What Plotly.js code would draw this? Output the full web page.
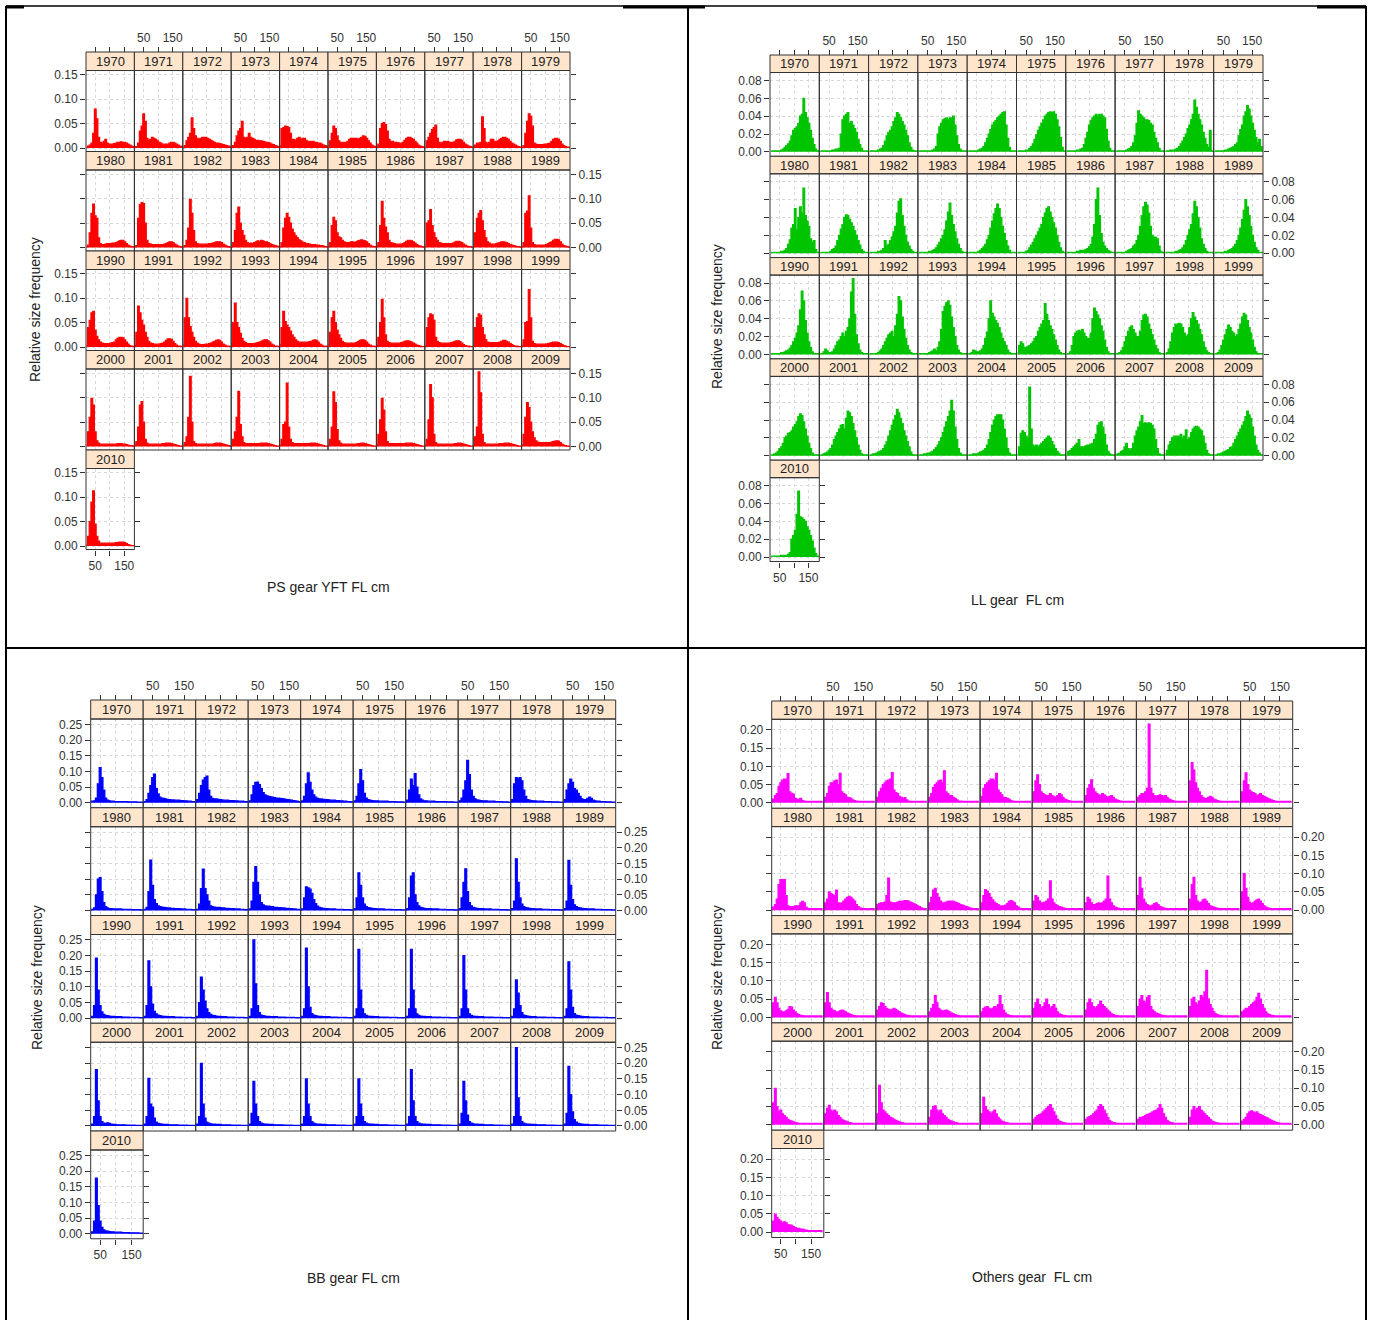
<!DOCTYPE html>
<html>
<head>
<meta charset="utf-8">
<script src="https://cdn.plot.ly/plotly-3.0.1.min.js"></script>
<style>html,body{margin:0;padding:0;background:#fff}</style>
</head>
<body>
<div id="chart" style="width:1373px;height:1320px"></div>
<script>
// Fork length bin mid-points (cm), shared by every panel
const BIN_MID_CM = [20,26,32,38,44,50,56,62,68,74,80,86,92,98,104,110,116,122,128,134,140,146,152,158,164,170,176,182,188];

const YEARS = [1970,1971,1972,1973,1974,1975,1976,1977,1978,1979,
               1980,1981,1982,1983,1984,1985,1986,1987,1988,1989,
               1990,1991,1992,1993,1994,1995,1996,1997,1998,1999,
               2000,2001,2002,2003,2004,2005,2006,2007,2008,2009,2010];

// Relative size frequency per bin, in thousandths (one row per year)
const PS_PERMILLE = [
[2,4,6,10,30,80,60,22,12,10,14,18,10,8,8,8,9,10,12,12,13,12,12,10,8,6,4,3,2],
[2,3,10,35,45,70,55,20,16,18,22,20,18,15,12,10,8,8,8,8,10,12,12,10,8,6,4,3,2],
[2,5,15,22,30,62,40,25,20,18,20,22,22,22,20,18,16,14,12,10,10,9,8,7,6,5,4,3,2],
[2,5,12,25,35,40,55,22,20,22,30,22,20,18,16,16,15,15,14,13,12,12,10,8,7,5,4,3,2],
[5,40,42,45,44,42,30,18,18,16,20,22,18,20,20,16,14,14,14,14,12,12,10,10,8,6,5,3,2],
[5,15,30,45,40,25,15,12,12,12,12,14,18,20,20,20,20,18,20,22,25,24,20,15,10,6,4,3,2],
[3,8,40,50,52,48,35,18,14,14,12,12,11,10,10,12,16,20,22,22,20,18,14,10,6,4,3,2,1],
[2,15,22,30,38,42,47,20,12,10,12,14,13,14,12,12,11,14,17,18,18,16,12,8,6,4,3,2,1],
[3,6,10,10,12,64,40,12,10,12,18,18,14,14,15,18,20,22,22,20,18,14,10,8,6,4,3,2,1],
[2,5,30,55,70,65,45,10,8,7,7,7,7,8,8,9,10,14,18,20,20,18,14,8,5,3,2,2,1],
[2,5,30,70,89,65,60,20,8,6,6,7,8,8,8,9,9,10,12,14,15,15,12,8,5,3,2,2,1],
[2,4,60,88,92,90,50,15,8,7,6,6,6,6,6,6,6,7,8,10,12,12,10,7,5,3,2,1,1],
[2,4,15,40,99,70,35,12,8,7,7,7,7,7,7,8,8,9,10,12,12,12,10,7,5,3,2,1,1],
[2,10,35,70,83,50,35,25,15,10,8,9,8,10,12,14,12,15,14,12,12,10,8,6,5,4,3,2,1],
[2,10,40,60,70,62,50,38,30,24,20,16,14,11,10,8,8,7,6,6,6,5,5,4,4,3,2,2,1],
[2,10,45,62,55,30,22,20,15,12,10,10,10,12,12,10,12,14,15,16,15,14,12,8,5,3,2,2,1],
[3,10,45,95,60,42,30,15,10,9,8,7,7,7,7,8,10,13,15,15,14,12,9,6,4,3,2,1,1],
[3,50,55,78,45,30,20,15,10,9,8,8,8,8,8,8,9,11,13,13,12,10,7,5,3,2,2,1,1],
[3,30,60,70,76,55,35,20,12,9,7,7,7,8,9,10,12,12,11,10,8,6,5,4,3,2,2,1,1],
[2,10,70,75,106,40,10,6,5,5,5,5,5,5,6,8,10,12,15,17,17,16,12,7,4,3,2,1,1],
[3,40,55,70,73,35,22,15,10,8,7,7,7,7,8,9,10,15,18,20,20,19,15,10,6,3,2,1,1],
[3,30,84,70,55,45,30,20,12,8,7,6,6,6,6,7,8,10,14,17,17,16,12,7,4,2,2,1,1],
[5,60,100,60,42,30,20,12,8,6,5,5,5,6,6,7,8,10,12,14,15,14,10,6,4,2,2,1,1],
[5,50,90,50,40,28,18,12,9,7,7,7,7,7,8,9,10,12,14,15,15,13,10,6,4,2,2,1,1],
[5,40,73,52,45,40,33,25,20,15,12,10,10,10,10,10,10,11,12,14,15,14,10,6,4,2,2,1,1],
[5,30,60,73,50,35,25,18,12,9,8,8,8,8,8,8,9,11,14,15,15,14,10,6,4,2,2,1,1],
[3,20,50,98,60,25,12,9,8,8,8,8,8,8,9,10,12,13,13,12,10,8,6,4,3,2,1,1,1],
[3,40,60,68,66,55,20,12,9,8,8,8,8,8,8,9,10,12,13,13,11,8,5,3,2,2,1,1,1],
[3,40,60,68,65,40,25,15,10,9,9,9,9,9,9,10,12,14,14,12,10,7,5,3,2,2,1,1,1],
[3,15,50,52,118,60,12,7,6,6,6,6,6,6,6,7,8,9,10,10,10,9,7,5,3,2,1,1,1],
[4,30,60,99,85,30,12,7,5,5,5,5,5,5,5,5,5,5,6,6,6,5,5,4,3,2,2,1,1],
[3,10,40,85,92,50,15,7,5,5,5,5,5,5,5,5,6,6,7,7,7,6,5,4,3,2,1,1,1],
[3,8,20,60,144,50,10,6,5,5,5,5,5,5,5,5,5,5,6,7,7,7,6,5,4,3,2,1,1],
[3,15,30,60,113,45,20,8,6,6,6,6,6,6,6,6,6,7,7,7,7,6,5,4,3,2,1,1,1],
[3,15,45,50,130,40,15,8,6,6,6,6,6,6,6,6,6,6,7,7,7,6,5,4,3,2,1,1,1],
[3,15,40,112,90,35,12,7,5,5,5,5,5,5,5,5,5,6,6,7,7,6,5,4,3,2,1,1,1],
[3,25,55,99,75,30,10,6,6,6,6,6,6,6,6,6,6,7,7,7,7,6,5,4,3,2,1,1,1],
[3,15,55,127,100,25,8,5,5,5,5,5,5,5,5,5,5,6,6,7,7,6,5,4,3,2,1,1,1],
[3,20,40,153,110,25,8,5,5,5,5,5,5,5,5,6,6,6,7,7,7,6,5,4,3,2,1,1,1],
[3,25,60,90,80,50,30,18,12,9,8,8,8,8,8,8,8,9,10,11,12,11,8,5,3,2,1,1,1],
[3,20,50,90,113,45,20,10,6,6,6,6,6,6,6,6,6,7,7,8,8,8,7,5,3,2,1,1,1]
];

const LL_PERMILLE = [
[1,1,1,1,1,1,2,3,5,7,9,12,18,24,26,28,32,40,42,60,44,38,32,24,15,8,3,1,1],
[1,1,1,1,1,1,1,2,2,3,3,4,20,36,40,42,44,32,34,30,26,22,14,8,4,1,1,1,1],
[1,1,1,1,1,2,3,4,7,12,18,22,24,28,34,38,44,42,38,34,30,24,18,10,5,2,1,1,1],
[1,1,1,1,1,1,1,1,2,3,6,20,28,32,36,37,38,36,38,38,40,30,18,8,3,1,1,1,1],
[1,1,1,1,1,1,2,3,4,6,10,15,20,25,30,33,35,38,40,42,44,45,30,15,5,1,1,1,1],
[1,1,1,1,1,2,2,4,6,9,14,19,24,28,32,36,40,42,44,45,44,45,42,36,28,16,5,1,1],
[1,1,1,1,1,1,2,2,3,4,8,15,22,30,35,38,40,42,40,42,42,40,38,25,12,4,1,1,1],
[1,1,1,1,1,1,2,3,4,6,10,18,32,46,42,40,38,36,36,35,32,30,22,15,10,4,1,1,1],
[1,1,1,2,2,2,3,4,6,9,12,16,20,26,30,36,42,58,50,42,36,30,22,15,8,5,24,1,1],
[1,1,1,1,1,1,2,2,3,4,5,6,8,10,18,25,30,40,45,52,48,40,32,24,16,10,14,6,1],
[1,1,1,1,1,1,2,2,3,5,10,15,28,32,50,26,40,52,45,73,42,36,30,16,12,14,4,1,1],
[1,1,1,1,1,1,2,4,5,8,14,20,27,32,40,43,42,38,34,30,25,20,14,9,4,2,1,1,1],
[1,1,1,1,1,2,2,3,5,14,8,10,14,18,24,30,45,58,61,42,30,20,12,8,4,2,1,1,1],
[1,1,1,1,1,1,2,2,3,4,6,9,12,16,20,26,36,46,56,42,32,24,16,10,5,2,1,1,1],
[1,1,1,1,1,1,2,3,5,7,10,15,20,28,36,44,50,55,50,40,30,22,14,8,3,1,1,1,1],
[1,1,1,1,1,2,3,6,9,12,16,20,24,28,32,40,45,50,52,46,40,34,28,20,12,6,2,1,1],
[1,1,1,1,1,1,2,2,3,3,3,4,5,7,10,18,32,60,73,42,22,12,8,5,3,2,1,1,1],
[1,1,1,1,1,1,2,3,4,5,8,10,14,20,30,42,52,57,54,45,30,20,18,18,16,8,2,1,1],
[1,1,1,1,1,1,2,2,3,4,6,9,14,20,26,32,44,58,52,40,28,16,10,5,2,1,1,1,1],
[1,1,1,1,1,1,2,2,3,4,5,7,10,14,20,28,38,48,60,52,42,30,20,12,6,3,1,1,1],
[1,1,1,1,1,1,2,2,3,4,5,7,10,14,18,24,32,50,71,60,38,24,14,8,3,1,1,1,1],
[1,1,3,6,4,2,2,3,6,10,14,16,20,24,20,26,30,40,70,85,45,22,12,5,2,1,1,1,1],
[1,1,1,1,1,2,4,6,10,14,18,22,24,26,20,32,45,65,60,42,28,18,10,5,2,1,1,1,1],
[1,1,1,1,1,1,2,3,4,6,4,8,14,28,48,54,58,60,55,42,30,20,10,5,2,1,1,1,1],
[1,1,2,5,4,3,3,4,6,10,18,25,40,60,46,42,38,35,30,24,18,14,10,5,2,1,1,1,1],
[2,10,14,12,8,8,9,10,12,14,18,20,26,30,34,38,57,45,38,32,28,22,16,10,5,2,1,1,1],
[1,1,3,10,20,24,26,27,26,28,24,20,18,18,24,40,52,48,44,40,32,26,16,8,3,1,1,1,1],
[1,1,2,4,8,14,20,26,30,32,28,24,20,20,26,38,44,45,42,34,28,22,16,10,6,2,1,1,1],
[1,2,6,14,24,30,34,34,35,34,30,24,20,22,30,40,47,42,38,34,28,22,14,8,4,2,1,1,1],
[1,1,2,5,10,16,22,28,33,30,26,24,20,22,28,34,42,46,44,38,30,24,16,8,3,1,1,1,1],
[1,1,2,3,5,8,10,14,20,22,25,26,28,32,35,38,44,47,45,38,30,22,14,8,3,1,1,1,1],
[1,1,2,3,4,6,8,12,18,22,26,30,34,35,30,42,50,48,44,36,28,20,12,6,2,1,1,1,1],
[1,1,2,2,3,4,5,6,8,12,16,22,28,34,40,45,52,48,42,36,28,22,16,10,4,1,1,1,1],
[1,1,1,2,2,3,3,4,5,7,9,12,16,20,26,32,38,44,50,62,50,32,18,8,3,1,1,1,1],
[1,1,1,2,2,2,3,4,5,6,8,12,18,26,34,40,44,46,46,46,40,30,20,8,3,1,1,1,1],
[2,10,25,28,26,22,20,77,30,12,10,12,10,12,14,16,18,20,22,20,16,12,8,5,3,1,1,1,1],
[3,5,6,8,10,12,14,18,10,10,10,11,12,12,13,14,18,24,34,37,38,32,24,12,5,2,1,1,1],
[1,2,3,5,6,10,14,8,6,8,14,22,28,32,38,45,36,37,36,37,36,34,30,18,8,2,1,1,1],
[2,6,12,16,20,22,22,22,22,24,20,22,29,18,20,26,30,32,33,32,30,28,22,14,6,2,1,1,1],
[1,1,2,2,3,4,5,6,7,9,10,14,18,22,26,30,34,38,44,50,46,42,32,22,12,6,3,1,1],
[1,1,1,1,1,1,2,2,2,2,3,5,20,24,30,48,74,45,44,42,40,34,30,24,18,10,4,1,1]
];

const BB_PERMILLE = [
[5,5,6,15,60,112,80,40,15,8,6,5,5,4,4,4,4,4,4,4,3,3,3,3,3,2,2,2,2],
[3,4,10,30,55,80,91,45,28,18,15,14,12,10,10,9,9,8,8,8,7,7,6,6,5,5,4,4,3],
[3,10,30,55,72,80,85,40,20,14,12,12,11,10,9,8,8,8,7,7,7,6,6,5,5,5,4,4,3],
[3,6,25,55,65,66,58,45,32,25,22,20,19,18,16,15,15,14,13,12,11,10,9,8,7,6,5,4,3],
[3,6,20,60,95,65,40,25,18,14,12,12,11,10,10,9,8,8,8,7,7,6,6,5,5,4,4,3,3],
[4,6,20,60,106,70,30,15,10,8,7,6,6,6,5,5,5,5,5,4,4,4,4,3,3,3,3,2,2],
[3,8,40,75,55,93,50,25,12,8,6,6,5,5,5,5,4,4,4,4,4,4,3,3,3,3,2,2,2],
[3,6,15,40,70,135,90,40,20,12,9,8,7,6,6,6,5,5,5,5,4,4,4,4,3,3,3,2,2],
[3,10,60,80,78,80,70,40,20,10,8,7,6,6,5,5,5,5,4,4,4,4,3,3,3,3,2,2,2],
[3,10,40,60,75,65,45,40,30,20,12,10,10,14,18,14,8,6,5,5,4,4,4,3,3,3,2,2,2],
[3,4,8,50,100,105,60,25,12,8,6,6,5,5,5,5,5,4,4,4,4,4,3,3,3,3,3,2,2],
[3,4,10,60,161,80,35,22,15,12,11,10,9,8,8,7,7,6,6,6,5,5,5,4,4,4,3,3,3],
[3,4,20,70,132,70,50,30,15,12,11,10,10,9,8,8,7,7,6,6,6,5,5,5,4,4,3,3,3],
[3,5,30,90,140,90,50,25,18,15,14,14,12,12,10,10,9,9,8,8,7,7,6,6,5,5,4,4,3],
[3,5,40,75,72,68,55,35,22,14,10,8,7,6,6,5,5,5,5,4,4,4,4,3,3,3,3,2,2],
[3,6,40,120,80,40,20,12,9,8,7,6,6,5,5,5,5,4,4,4,4,3,3,3,3,3,2,2,2],
[3,6,40,110,120,50,25,15,10,8,7,6,6,6,5,5,5,5,4,4,4,4,3,3,3,3,2,2,2],
[3,6,40,90,133,60,25,15,10,8,7,6,6,6,5,5,5,5,4,4,4,4,3,3,3,3,2,2,2],
[3,6,30,165,90,40,20,12,9,8,7,6,6,5,5,5,5,4,4,4,4,3,3,3,3,3,2,2,2],
[3,6,30,160,80,35,18,12,9,8,7,6,6,5,5,5,5,4,4,4,4,3,3,3,3,3,2,2,2],
[3,6,40,192,90,40,20,12,9,8,7,6,6,5,5,5,5,4,4,4,4,3,3,3,3,3,2,2,2],
[3,6,40,183,100,45,22,14,10,8,7,6,6,5,5,5,5,4,4,4,4,3,3,3,3,3,2,2,2],
[3,6,50,131,90,55,30,18,12,9,8,7,6,6,5,5,5,4,4,4,4,3,3,3,3,3,2,2,2],
[3,6,30,250,110,40,18,10,8,7,6,6,5,5,5,5,4,4,4,4,3,3,3,3,3,2,2,2,2],
[3,6,30,224,100,35,15,10,8,7,6,6,5,5,5,5,4,4,4,4,3,3,3,3,3,2,2,2,2],
[3,6,30,220,90,30,14,9,7,6,6,5,5,5,4,4,4,4,4,3,3,3,3,3,2,2,2,2,2],
[3,6,30,220,90,30,14,9,7,6,6,5,5,5,4,4,4,4,4,3,3,3,3,3,2,2,2,2,2],
[3,6,30,200,90,30,14,9,7,6,6,5,5,5,4,4,4,4,4,3,3,3,3,3,2,2,2,2,2],
[3,6,30,122,80,40,18,10,8,7,6,5,5,5,4,4,4,4,4,3,3,3,3,3,2,2,2,2,2],
[3,6,30,180,90,35,15,10,8,7,6,5,5,5,4,4,4,4,4,3,3,3,3,3,2,2,2,2,2],
[3,6,30,180,80,30,14,9,8,10,8,6,5,5,4,4,4,4,4,3,3,3,3,3,2,2,2,2,2],
[3,6,30,152,70,60,25,12,8,7,6,5,5,5,4,4,4,4,4,3,3,3,3,3,2,2,2,2,2],
[3,6,30,200,70,25,12,9,7,6,6,5,5,5,4,4,4,4,4,3,3,3,3,3,2,2,2,2,2],
[3,6,40,142,70,30,14,9,7,6,6,5,5,5,4,4,4,4,4,3,3,3,3,3,2,2,2,2,2],
[3,6,30,150,70,30,14,9,7,6,6,5,5,5,4,4,4,4,4,3,3,3,3,3,2,2,2,2,2],
[3,6,30,150,70,30,14,9,7,6,6,5,5,5,4,4,4,4,4,3,3,3,3,3,2,2,2,2,2],
[3,6,30,180,80,30,14,9,7,6,6,5,5,5,4,4,4,4,4,3,3,3,3,3,2,2,2,2,2],
[3,6,40,142,80,35,14,9,7,6,6,5,5,5,4,4,4,4,4,3,3,3,3,3,2,2,2,2,2],
[3,6,30,250,90,30,14,9,7,6,6,5,5,5,4,4,4,4,4,3,3,3,3,3,2,2,2,2,2],
[3,6,40,190,100,45,20,12,8,7,6,5,5,5,4,4,4,4,4,3,3,3,3,3,2,2,2,2,2],
[3,6,40,177,90,40,20,12,9,8,7,6,6,5,5,5,5,4,4,4,4,3,3,3,3,3,2,2,2]
];

const OTHERS_PERMILLE = [
[5,10,20,25,45,55,62,65,65,80,30,26,24,12,10,10,12,6,5,4,4,4,4,4,4,4,4,4,4],
[5,15,25,45,55,55,60,62,50,81,30,25,22,15,14,12,8,6,5,4,4,4,4,4,4,4,4,4,4],
[5,15,30,40,50,55,60,62,65,83,35,28,25,18,15,12,14,8,5,4,4,4,4,4,4,4,4,4,4],
[5,15,25,42,50,55,60,62,55,88,30,25,20,20,15,12,8,5,5,4,4,4,4,4,4,4,4,4,4],
[5,18,40,50,55,60,65,65,60,81,35,28,22,15,14,12,10,6,5,4,4,4,4,4,4,4,4,4,4],
[5,30,60,77,50,30,25,22,20,20,25,20,18,15,20,25,22,15,10,8,6,5,4,4,4,4,4,4,4],
[5,20,40,50,63,40,30,25,22,20,25,22,18,15,18,20,15,10,8,6,5,4,4,4,4,4,4,4,4],
[5,15,20,25,25,30,40,216,40,25,20,18,20,22,20,18,20,15,10,8,6,5,4,4,4,4,4,4,4],
[5,60,110,90,55,40,30,20,15,12,12,15,18,15,10,8,6,5,4,4,4,4,4,4,4,4,4,4,4],
[5,30,60,82,50,35,30,28,25,20,22,25,20,18,15,12,10,8,6,5,4,4,4,4,4,4,4,4,4],
[5,8,15,30,70,84,84,84,40,12,10,10,10,12,12,12,20,24,20,8,5,4,4,4,4,4,4,4,4],
[5,20,30,50,45,42,40,55,20,18,20,25,30,35,38,35,30,25,15,10,6,5,4,4,4,4,4,4,4],
[5,15,18,20,20,22,40,88,22,20,20,20,22,24,24,25,26,26,25,22,20,18,15,12,10,6,5,4,4],
[5,20,35,55,60,45,35,25,20,20,22,24,25,25,24,22,20,18,15,14,12,10,8,6,5,4,4,4,4],
[5,20,40,56,52,45,35,28,22,18,15,12,12,12,14,18,24,26,24,20,12,8,5,4,4,4,4,4,4],
[5,25,40,35,25,20,20,22,25,30,80,30,20,15,12,10,8,6,5,4,4,4,4,4,4,4,4,4,4],
[5,20,35,30,20,15,15,18,20,18,20,25,30,93,30,20,12,8,6,5,4,4,4,4,4,4,4,4,4],
[5,40,90,60,30,20,15,12,12,14,18,20,15,10,8,6,5,4,4,4,4,4,4,4,4,4,4,4,4],
[5,30,70,90,40,25,20,22,28,30,25,18,12,10,8,6,5,4,4,4,4,4,4,4,4,4,4,4,4],
[5,50,100,60,35,22,18,20,25,28,30,25,18,12,8,6,5,4,4,4,4,4,4,4,4,4,4,4,4],
[5,40,55,40,25,18,15,15,18,22,30,28,20,15,10,8,6,5,4,4,4,4,4,4,4,4,4,4,4],
[5,40,68,40,25,20,18,15,15,18,20,18,15,12,10,8,6,5,4,4,4,4,4,4,4,4,4,4,4],
[5,20,30,40,38,30,25,22,20,22,25,22,18,15,12,10,8,6,5,4,4,4,4,4,4,4,4,4,4],
[5,15,25,35,60,40,25,20,18,18,20,18,15,12,10,8,6,5,4,4,4,4,4,4,4,4,4,4,4],
[5,15,25,28,30,25,22,25,30,28,35,60,35,20,12,8,6,5,4,4,4,4,4,4,4,4,4,4,4],
[5,25,40,50,35,25,30,40,50,35,25,30,35,25,15,10,8,6,5,4,4,4,4,4,4,4,4,4,4],
[5,20,40,50,40,30,25,30,35,45,35,30,25,20,15,10,8,6,5,4,4,4,4,4,4,4,4,4,4],
[5,30,50,60,45,40,55,60,30,20,15,12,10,8,6,5,4,4,4,4,4,4,4,4,4,4,4,4,4],
[5,30,50,55,40,35,45,60,55,70,129,50,35,25,15,10,8,6,5,4,4,4,4,4,4,4,4,4,4],
[5,15,20,25,25,30,35,40,45,55,66,50,35,25,15,10,8,6,5,4,4,4,4,4,4,4,4,4,4],
[5,60,100,50,35,40,30,25,20,15,12,10,8,6,5,4,4,4,4,4,4,4,4,4,4,4,4,4,4],
[5,30,45,53,40,35,40,35,25,20,15,12,10,8,6,5,4,4,4,4,4,4,4,4,4,4,4,4,4],
[5,30,108,60,40,35,30,25,20,18,15,12,10,8,6,5,4,4,4,4,4,4,4,4,4,4,4,4,4],
[5,20,40,50,52,40,35,40,30,25,20,15,12,10,8,6,5,4,4,4,4,4,4,4,4,4,4,4,4],
[5,30,75,50,40,35,30,35,40,30,20,15,10,8,6,5,4,4,4,4,4,4,4,4,4,4,4,4,4],
[5,15,20,25,28,30,35,40,45,50,55,45,35,25,15,10,8,6,5,4,4,4,4,4,4,4,4,4,4],
[5,15,20,22,25,30,35,40,50,55,50,40,30,20,12,8,6,5,4,4,4,4,4,4,4,4,4,4,4],
[5,15,20,20,22,25,28,30,32,35,38,40,45,55,45,30,20,12,8,6,5,4,4,4,4,4,4,4,4],
[5,20,40,50,40,45,50,40,35,30,25,20,15,10,8,6,5,4,4,4,4,4,4,4,4,4,4,4,4],
[5,10,15,20,30,35,38,35,32,35,30,28,25,22,20,18,15,12,10,8,6,5,4,4,4,4,4,4,4],
[5,30,49,40,35,30,25,28,25,20,20,18,15,12,10,10,8,8,6,5,4,4,4,4,4,4,4,4,4]
];

const W = 1373, H = 1320;
const FONT = 'Arial, "Liberation Sans", sans-serif';
const fx = v => v / W;          // page px -> paper x
const fy = v => 1 - v / H;      // page px -> paper y

// One lattice per gear: 10 columns, 4 full rows plus 2010 alone
const gears = [
  { freq: PS_PERMILLE, color: '#ff0000', left: 86, pw: 48.4, stripTop: 52, pitch: 99.5, stripH: 18.5, panelH: 81,
    xr: [18, 185], yr: [-0.007, 0.159], yt: [0, 0.05, 0.10, 0.15],
    xTitle: { text: 'PS gear YFT FL cm', x: 328, y: 587 }, yTitle: { x: 35, y: 310 } },
  { freq: LL_PERMILLE, color: '#00c400', left: 770, pw: 49.3, stripTop: 55, pitch: 101.3, stripH: 17.5, panelH: 83.8,
    xr: [16, 188], yr: [-0.005, 0.089], yt: [0, 0.02, 0.04, 0.06, 0.08],
    xTitle: { text: 'LL gear&nbsp; FL cm', x: 1017, y: 600 }, yTitle: { x: 717, y: 317 } },
  { freq: BB_PERMILLE, color: '#0000ff', left: 90.7, pw: 52.5, stripTop: 700, pitch: 107.75, stripH: 19, panelH: 88.75,
    xr: [20, 187], yr: [-0.016, 0.267], yt: [0, 0.05, 0.10, 0.15, 0.20, 0.25],
    xTitle: { text: 'BB gear FL cm', x: 353, y: 1278 }, yTitle: { x: 37, y: 978 } },
  { freq: OTHERS_PERMILLE, color: '#ff00ff', left: 771.7, pw: 52.1, stripTop: 701, pitch: 107.3, stripH: 18.3, panelH: 89,
    xr: [20, 192], yr: [-0.015, 0.229], yt: [0, 0.05, 0.10, 0.15, 0.20],
    xTitle: { text: 'Others gear&nbsp; FL cm', x: 1032, y: 1277 }, yTitle: { x: 717, y: 978 } }
];

const GRID = { showgrid: true, gridcolor: '#d9d9d9', griddash: 'dot', gridwidth: 1, zeroline: false, showline: false, fixedrange: true };
const TICKFONT = { family: FONT, size: 12, color: '#333' };

const data = [];
const layout = {
  width: W, height: H, margin: { l: 0, r: 0, t: 0, b: 0 }, showlegend: false,
  paper_bgcolor: '#fff', plot_bgcolor: '#fff', font: { family: FONT, size: 12, color: '#333' },
  shapes: [], annotations: []
};

let k = 0;
gears.forEach((g, gi) => {
  YEARS.forEach((year, i) => {
    k++;
    const row = Math.floor(i / 10), col = i % 10;
    const x0 = g.left + col * g.pw, x1 = x0 + g.pw;
    const sTop = g.stripTop + row * g.pitch, pTop = sTop + g.stripH, pBot = pTop + g.panelH;
    const sfx = k === 1 ? '' : String(k);
    const xid = 'x' + sfx, yid = 'y' + sfx;
    const isTop = row === 0, isLast = i === YEARS.length - 1;

    data.push({
      type: 'scatter', mode: 'lines', x: BIN_MID_CM, y: g.freq[i].map(v => v / 1000),
      xaxis: xid, yaxis: yid, line: { shape: 'hvh', color: g.color, width: 1.2 },
      fill: 'tozeroy', fillcolor: g.color, hoverinfo: 'skip'
    });

    const xa = Object.assign({}, GRID, {
      domain: [fx(x0), fx(x1)], range: g.xr,
      tickvals: [50, 100, 150], ticktext: ['50', '', '150'],
      ticks: (isTop || isLast) ? 'outside' : '', ticklen: 5, tickcolor: '#333', tickwidth: 1,
      showticklabels: isLast || (isTop && col % 2 === 1), tickfont: TICKFONT
    });
    if (isTop) { xa.anchor = 'free'; xa.position = fy(sTop); xa.side = 'top'; }
    else { xa.anchor = yid; xa.side = 'bottom'; }
    layout['xaxis' + sfx] = xa;

    const leftCol = col === 0, rightCol = col === 9;
    layout['yaxis' + sfx] = Object.assign({}, GRID, {
      domain: [fy(pBot), fy(pTop)], range: g.yr, anchor: xid,
      tickvals: g.yt, ticktext: g.yt.map(v => v.toFixed(2)),
      side: rightCol ? 'right' : 'left',
      ticks: (leftCol || rightCol) ? 'outside' : '', ticklen: 5, tickcolor: '#333', tickwidth: 1,
      showticklabels: (leftCol && row % 2 === 0) || (rightCol && row % 2 === 1), tickfont: TICKFONT
    });

    // 2010 stands alone, so it also carries the right-hand ticks
    if (isLast) {
      const ek = 200 + gi;
      layout['yaxis' + ek] = {
        overlaying: yid, anchor: xid, side: 'right', range: g.yr, fixedrange: true,
        tickvals: g.yt, ticks: 'outside', ticklen: 5, tickcolor: '#333', showticklabels: false,
        showgrid: false, zeroline: false, showline: false
      };
      data.push({ type: 'scatter', mode: 'lines', x: [null], y: [null], xaxis: xid, yaxis: 'y' + ek, hoverinfo: 'skip' });
    }

    // strip with the year
    layout.shapes.push({
      type: 'rect', xref: 'paper', yref: 'paper', x0: fx(x0), x1: fx(x1), y0: fy(pTop), y1: fy(sTop),
      fillcolor: '#ffe5cc', line: { color: '#333', width: 1 }, layer: 'above'
    });
    layout.annotations.push({
      xref: 'paper', yref: 'paper', x: fx((x0 + x1) / 2), y: fy((sTop + pTop) / 2),
      text: String(year), showarrow: false, xanchor: 'center', yanchor: 'middle',
      font: { family: FONT, size: 13, color: '#222' }
    });
    // panel frame
    layout.shapes.push({
      type: 'rect', xref: 'paper', yref: 'paper', x0: fx(x0), x1: fx(x1), y0: fy(pBot), y1: fy(pTop),
      line: { color: '#333', width: 1 }, layer: 'above'
    });
  });

  layout.annotations.push({
    xref: 'paper', yref: 'paper', x: fx(g.xTitle.x), y: fy(g.xTitle.y), text: g.xTitle.text,
    showarrow: false, xanchor: 'center', yanchor: 'middle', font: { family: FONT, size: 14, color: '#222' }
  });
  layout.annotations.push({
    xref: 'paper', yref: 'paper', x: fx(g.yTitle.x), y: fy(g.yTitle.y), text: 'Relative size frequency',
    textangle: -90, showarrow: false, xanchor: 'center', yanchor: 'middle', font: { family: FONT, size: 14, color: '#222' }
  });
});

// table rules around the four lattices
const rule = (xa, ya, xb, yb, w) => ({
  type: 'line', xref: 'paper', yref: 'paper', x0: fx(xa), y0: fy(ya), x1: fx(xb), y1: fy(yb),
  line: { color: '#000', width: w }, layer: 'above'
});
layout.shapes.push(
  rule(6, 6, 1366, 6, 1.5), rule(6, 6, 6, 1320, 2), rule(1366, 6, 1366, 1320, 2),
  rule(688, 6, 688, 1320, 2), rule(6, 648, 1366, 648, 2),
  rule(6, 7, 24, 7, 3), rule(623, 7, 705, 7, 3), rule(1317, 7, 1366, 7, 3)
);

Plotly.newPlot('chart', data, layout, { staticPlot: true, displayModeBar: false });
</script>
</body>
</html>
